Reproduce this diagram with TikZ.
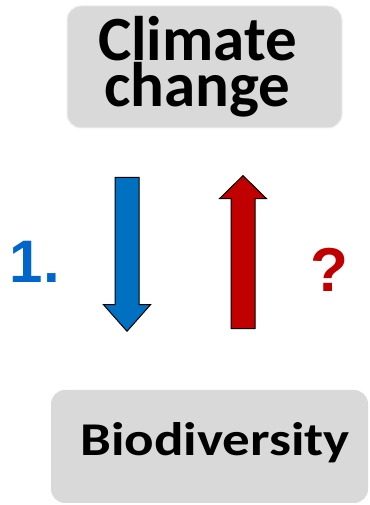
\documentclass[tikz,border=0pt]{standalone}
\usepackage{fontspec}
\usetikzlibrary{shapes.arrows}
\newfontfamily\calibfont{Carlito}
\newfontfamily\arialfont{Liberation Sans}
\definecolor{boxgray}{HTML}{D9D9D9}
\definecolor{downblue}{HTML}{0070C0}
\definecolor{upred}{HTML}{C00000}
\definecolor{numblue}{HTML}{0066CC}

\begin{document}
\begin{tikzpicture}[x=1pt,y=1pt]
   \useasboundingbox (0,0) rectangle (369,505);
   % grey boxes
   \begin{scope}[every node/.style={rounded corners=14pt,fill=boxgray,inner sep=0pt}]
    \node[draw=white!55!boxgray,line width=1pt,minimum width=275pt,minimum height=122pt] (climate) at (204.5,438) {};
    \node[minimum width=317pt,minimum height=113pt] (biodiv) at (209.5,58.5) {};
   \end{scope}
   \begin{scope}[every node/.style={inner sep=0pt,align=center,font=\calibfont\bfseries}]
    \node[font=\calibfont\bfseries\fontsize{63}{40}\selectfont] (cctext) at ([xshift=-7pt]climate.center) {Climate\\change};
    \node[anchor=base,font=\calibfont\bfseries\fontsize{47}{50}\selectfont] (bdtext) at (215,49) {\scalebox{1.17}[1]{Biodiversity}};
   \end{scope}
   % block arrows
   \begin{scope}[every node/.style={single arrow,draw=black,line width=1pt,inner sep=0pt,text width=0pt,text height=11.5pt,text depth=11.5pt,single arrow head extend=11.5pt}]
    \node[fill=downblue,rotate=-90,minimum height=154pt,single arrow tip angle=83] (down) at (127,257.5) {};
    \node[fill=upred,rotate=90,minimum height=153pt,single arrow tip angle=91] (up) at (243,247) {};
   \end{scope}
   % labels
   \node[anchor=base,text=numblue,font=\arialfont\bfseries\fontsize{60}{60}\selectfont] (one) at (35,222) {1.};
   \node[anchor=base,text=upred,font=\arialfont\bfseries\fontsize{62}{62}\selectfont] (qmark) at (329,213) {?};
\end{tikzpicture}
\end{document}
